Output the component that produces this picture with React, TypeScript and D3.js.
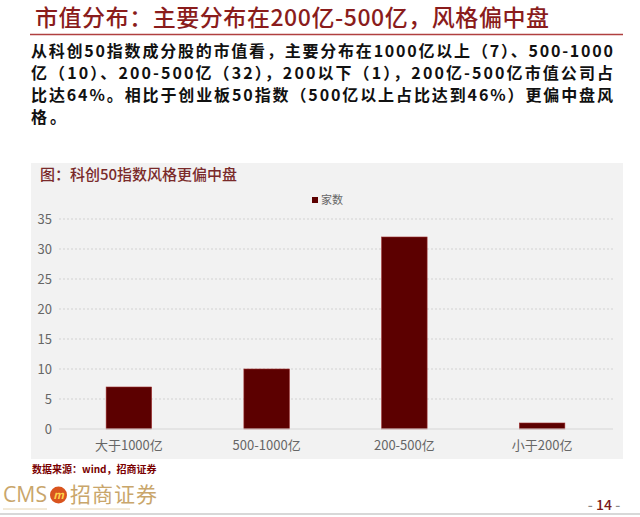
import * as d3 from 'd3'

const categories = ['大于1000亿', '500-1000亿', '200-500亿', '小于200亿']
const counts = [7, 10, 32, 1]
const yTicks = [0, 5, 10, 15, 20, 25, 30, 35]
const seriesName = '家数'

const headline = '市值分布：主要分布在200亿-500亿，风格偏中盘'
const bodyLines = [
  '从科创50指数成分股的市值看，主要分布在1000亿以上（7）、500-1000',
  '亿（10）、200-500亿（32），200以下（1），200亿-500亿市值公司占',
  '比达64%。相比于创业板50指数（500亿以上占比达到46%）更偏中盘风',
  '格。',
]
const chartTitle = '图：科创50指数风格更偏中盘'
const sourceNote = '数据来源：wind，招商证券'

const W = 640
const H = 517
const FONT = '"Noto Sans CJK SC", "Noto Sans", sans-serif'

export default function App() {
  const x = d3.scaleBand<string>()
    .domain(categories)
    .range([60, 611])
    .paddingInner(0.67)
    .paddingOuter(0.335)

  const y = d3.scaleLinear()
    .domain([0, 35])
    .range([429, 219])

  return (
    <div style={{ position: 'absolute', left: 0, top: 0 }}>
      <svg width={W} height={H} viewBox={`0 0 ${W} ${H}`} style={{ display: 'block', background: '#fff' }}>
        {/* slide header */}
        <text x={35} y={26} fontFamily={FONT} fontSize={23} fontWeight={500} fill="#8a1c1c"
          textLength={514} lengthAdjust="spacing">{headline}</text>
        <line x1={30} x2={623} y1={34.5} y2={34.5} stroke="#b04040" strokeWidth={1.5} />

        {bodyLines.map((line, i) => (
          <text key={i} x={31} y={57 + i * 22} fontFamily={FONT} fontSize={16} fontWeight={700} fill="#111"
            textLength={i < 3 ? 582 : undefined} lengthAdjust="spacing"
            letterSpacing={i < 3 ? undefined : 3}>{line}</text>
        ))}

        {/* chart panel */}
        <rect x={31} y={163} width={592} height={296} fill="#f2f2f2" />
        <text x={40} y={180} fontFamily={FONT} fontSize={15} fontWeight={500} fill="#7a2a2a">{chartTitle}</text>

        <rect x={312} y={197} width={6} height={6} fill="#5c0000" />
        <text x={321} y={204} fontFamily={FONT} fontSize={11} fill="#666">{seriesName}</text>

        {yTicks.map(t => (
          <g key={t}>
            {t > 0 && (
              <line x1={59} x2={613} y1={y(t)} y2={y(t)} stroke="#d2d2d2" strokeWidth={1} strokeDasharray="2,2" />
            )}
            <text x={52} y={y(t)} dy="0.35em" textAnchor="end" fontFamily={FONT} fontSize={13} fill="#666">{t}</text>
          </g>
        ))}

        {categories.map((c, i) => (
          <rect key={c} x={x(c)} y={y(counts[i])} width={x.bandwidth()} height={y(0) - y(counts[i])}
            fill="#5c0000" stroke="#9a2a2a" strokeWidth={0.6} />
        ))}

        <line x1={59} x2={613} y1={y(0)} y2={y(0)} stroke="#d6d6d6" strokeWidth={1} />

        {categories.map(c => (
          <text key={c} x={(x(c) ?? 0) + x.bandwidth() / 2} y={445} dy="0.35em" textAnchor="middle"
            fontFamily={FONT} fontSize={13} fill="#666">{c}</text>
        ))}

        <text x={32} y={473} fontFamily={FONT} fontSize={10} fontWeight={700} fill="#7a0000">{sourceNote}</text>

        {/* footer */}
        <text x={3} y={502} fontFamily={'"Open Sans", sans-serif'} fontSize={21} fill="#c9a66b"
          textLength={44} lengthAdjust="spacingAndGlyphs">CMS</text>
        <circle cx={58.5} cy={495} r={8.5} fill="#d9541e" />
        <text x={58.5} y={495} dy="0.35em" textAnchor="middle" fontFamily={FONT} fontSize={11} fontWeight={700}
          fontStyle="italic" fill="#ffd24a">m</text>
        <text x={70} y={502} fontFamily={FONT} fontSize={21} fill="#c9a66b" textLength={87} lengthAdjust="spacing">招商证券</text>
        <line x1={3} x2={47} y1={509} y2={509} stroke="#e6d4b0" strokeWidth={1} />
        <line x1={70} x2={130} y1={509} y2={509} stroke="#e6d4b0" strokeWidth={1} />
        <text x={604} y={510} textAnchor="middle" fontFamily={FONT} fontSize={14} fontWeight={500} fill="#7a1a1a">
          <tspan fill="#888">- </tspan>14<tspan fill="#888"> -</tspan>
        </text>
        <rect x={0} y={513} width={W} height={2} fill="#d8d8d8" />
      </svg>
    </div>
  )
}
